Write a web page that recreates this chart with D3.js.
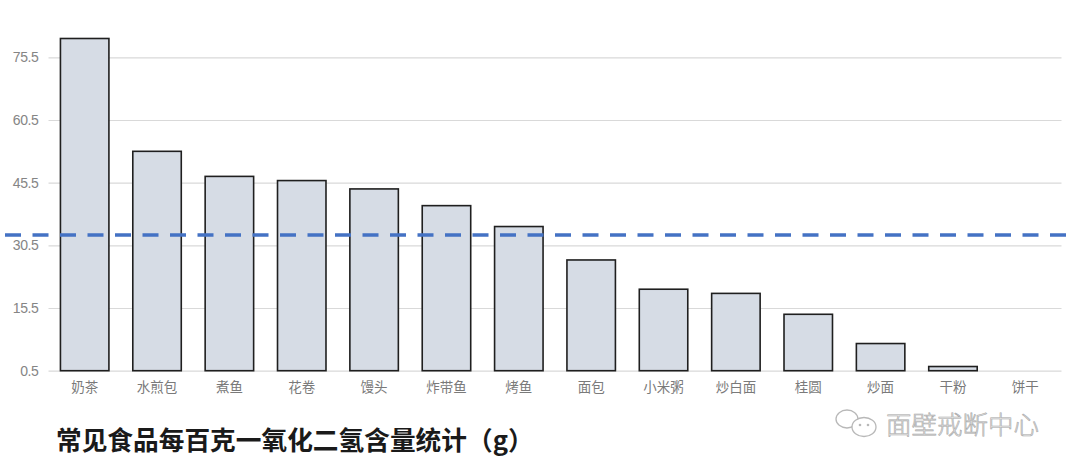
<!DOCTYPE html>
<html>
<head>
<meta charset="utf-8">
<script src="https://cdn.jsdelivr.net/npm/d3@7/dist/d3.min.js"></script>
<style>
html,body{margin:0;padding:0;background:#fff;}
svg{display:block;}
</style>
</head>
<body>
<svg id="chart" width="1080" height="473"></svg>
<script>
const categories = ["奶茶","水煎包","煮鱼","花卷","馒头","炸带鱼","烤鱼","面包","小米粥","炒白面","桂圆","炒面","干粉","饼干"];
const values = [80, 53, 47, 46, 44, 40, 35, 27, 20, 19, 14, 7, 1.5, 0];
const yTicks = [0.5, 15.5, 30.5, 45.5, 60.5, 75.5];
const referenceValue = 33;
const titleText = "常见食品每百克一氧化二氢含量统计（g）";
const watermarkText = "面壁戒断中心";

const svg = d3.select("#chart");
const plotL = 48.5, plotR = 1061.5;

const x = d3.scaleBand().domain(categories).range([plotL, plotR]).paddingInner(0.33).paddingOuter(0.165);
const y = d3.scaleLinear().domain([0.5, 75.5]).range([370.7, 57.3]);

// gridlines + y labels
const yAxis = d3.axisLeft(y).tickValues(yTicks).tickSize(-(plotR - plotL)).tickPadding(10).tickFormat(d3.format(".1f"));
const gy = svg.append("g").attr("transform", `translate(${plotL},0)`).call(yAxis);
gy.select(".domain").remove();
gy.selectAll(".tick line").attr("stroke", "#d9d9d9").attr("stroke-width", 1.2);
gy.selectAll(".tick text").attr("fill", "#858585").attr("font-family", "Liberation Sans, Arial, sans-serif").attr("font-size", 14).attr("letter-spacing", -0.4);

// bars
svg.append("g").selectAll("rect").data(categories.map((c, i) => ({c, v: values[i]})).filter(d => d.v > 0.5))
  .join("rect")
  .attr("x", d => x(d.c))
  .attr("width", x.bandwidth())
  .attr("y", d => y(d.v))
  .attr("height", d => y(0.5) - y(d.v))
  .attr("fill", "#d6dce5")
  .attr("stroke", "#1f1f1f")
  .attr("stroke-width", 1.6);

// x labels
const xAxis = d3.axisBottom(x).tickSize(0).tickPadding(12);
const gx = svg.append("g").attr("transform", `translate(0,${y(0.5)})`).call(xAxis);
gx.select(".domain").remove();
gx.selectAll(".tick text").attr("fill", "#7a7a7a").attr("font-family", "Noto Sans CJK SC, sans-serif").attr("font-size", 13.5);

// reference dashed line
svg.append("line")
  .attr("x1", 5).attr("x2", 1067)
  .attr("y1", y(referenceValue)).attr("y2", y(referenceValue))
  .attr("stroke", "#4472c4").attr("stroke-width", 3.5)
  .attr("stroke-dasharray", "16,11.5");

// title
svg.append("text")
  .attr("x", 56).attr("y", 450)
  .attr("font-family", "Noto Sans CJK SC, sans-serif")
  .attr("font-weight", "bold")
  .attr("font-size", 25.7)
  .attr("fill", "#1a1a1a")
  .text(titleText);

// watermark
const wm = svg.append("g");
wm.append("ellipse").attr("cx", 847).attr("cy", 419).attr("rx", 11).attr("ry", 9)
  .attr("fill", "none").attr("stroke", "#b8b8b8").attr("stroke-width", 1.3);
wm.append("ellipse").attr("cx", 864).attr("cy", 427).attr("rx", 12).attr("ry", 9.5)
  .attr("fill", "#fff").attr("stroke", "#b8b8b8").attr("stroke-width", 1.3);
wm.append("circle").attr("cx", 860).attr("cy", 425).attr("r", 1.3).attr("fill", "#b8b8b8");
wm.append("circle").attr("cx", 868).attr("cy", 425).attr("r", 1.3).attr("fill", "#b8b8b8");
wm.append("text")
  .attr("x", 886).attr("y", 434)
  .attr("font-family", "Noto Sans CJK SC, sans-serif")
  .attr("font-size", 25.5)
  .attr("font-weight", 300)
  .attr("fill", "#e6e6e6")
  .attr("stroke", "#a9a9a9")
  .attr("stroke-width", 0.6)
  .text(watermarkText);
</script>
</body>
</html>
